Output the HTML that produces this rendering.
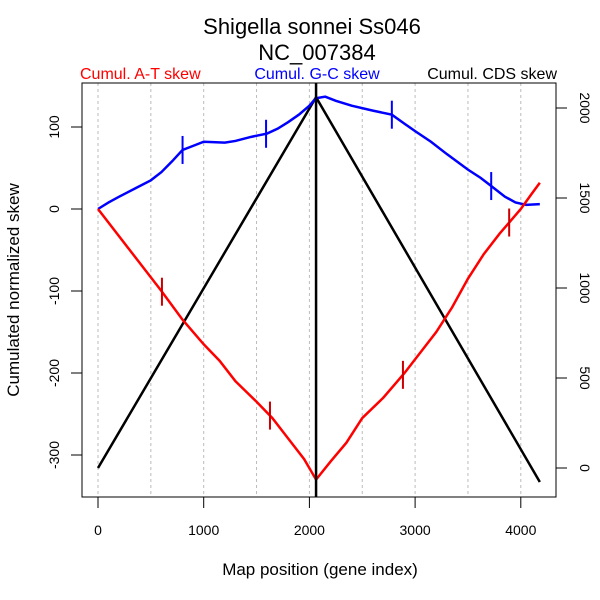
<!DOCTYPE html>
<html><head><meta charset="utf-8"><style>body{margin:0;background:#fff}svg{display:block;font-family:"Liberation Sans",sans-serif}</style></head>
<body>
<svg id="c" width="600" height="600"></svg>
<script>
const gridX=[0,500,1000,1500,2000,2500,3000,3500,4000];
const xTicks=[0,1000,2000,3000,4000];
const leftTicks=[-300,-200,-100,0,100];
const rightTicks=[0,500,1000,1500,2000];
const blueX=[0,100,200,350,500,600,700,800,900,1000,1200,1300,1450,1600,1700,1800,1900,2000,2060,2150,2250,2400,2600,2780,2900,3000,3150,3300,3500,3620,3720,3850,3950,4050,4180];
const blueY=[0,8,15,25,35,45,58,72,77,82,81,83,88,92,98,106,115,126,135,137,132,126,120,115,104,95,82,67,48,38,28,15,8,5,6];
const redX=[0,150,300,450,600,800,1000,1150,1300,1500,1650,1800,1950,2063,2200,2350,2500,2700,2900,3050,3200,3350,3500,3650,3800,3900,4000,4100,4180];
const redY=[0,-25,-50,-75,-100,-135,-165,-185,-210,-235,-255,-280,-305,-330,-308,-285,-255,-230,-200,-175,-150,-120,-85,-55,-30,-15,0,18,32];
const cdsX=[0,2063,4180];
const cdsY=[0,2060,-78];
const blueMarks=[800,1590,2780,3720];
const redMarks=[605,1627,2885,3890];
const ns="http://www.w3.org/2000/svg",svg=document.getElementById('c');
const X=v=>98+v*0.1057, YL=v=>209-v*0.82, YR=v=>468-v*0.18;
function el(t,a,txt){const e=document.createElementNS(ns,t);for(const k in a)e.setAttribute(k,a[k]);if(txt!=null)e.textContent=txt;svg.appendChild(e);return e;}
gridX.forEach(g=>{const e=el('line',{x1:X(g),x2:X(g),y1:83,y2:497,stroke:'#bbb','stroke-dasharray':'3,3'});});
function poly(xs,ys,f,c,w,name){const e=el('polyline',{points:xs.map((x,i)=>X(x)+','+f(ys[i])).join(' '),fill:'none',stroke:c,'stroke-width':w});}
poly(cdsX,cdsY,YR,'#000',2.5,'cds-skew-line');
poly(blueX,blueY,YL,'#00f',2.5,'gc-skew-line');
poly(redX,redY,YL,'#f00',2.5,'at-skew-line');
function interp(xs,ys,x){for(let i=1;i<xs.length;i++)if(x<=xs[i]){const t=(x-xs[i-1])/(xs[i]-xs[i-1]);return ys[i-1]+t*(ys[i]-ys[i-1]);}return ys[ys.length-1];}
blueMarks.forEach(m=>{const y=YL(interp(blueX,blueY,m));const e=el('line',{x1:X(m),x2:X(m),y1:y-14,y2:y+14,stroke:'#00f','stroke-width':2});});
redMarks.forEach(m=>{const y=YL(interp(redX,redY,m));const e=el('line',{x1:X(m),x2:X(m),y1:y-14,y2:y+14,stroke:'#c00','stroke-width':2});});
let v=el('line',{x1:X(2063),x2:X(2063),y1:83,y2:497,stroke:'#000','stroke-width':2.5});
let b=el('rect',{x:82,y:83,width:474,height:414,fill:'none',stroke:'#000'});
xTicks.forEach(t=>{el('line',{x1:X(t),x2:X(t),y1:497,y2:508,stroke:'#000'});const e=el('text',{x:X(t),y:535,'font-size':14,'text-anchor':'middle'},t);});
leftTicks.forEach(t=>{const y=YL(t);el('line',{x1:71,x2:82,y1:y,y2:y,stroke:'#000'});const e=el('text',{x:0,y:0,'font-size':14,'text-anchor':'middle',transform:`translate(59,${y}) rotate(-90)`},t);});
rightTicks.forEach(t=>{const y=YR(t);el('line',{x1:556,x2:567,y1:y,y2:y,stroke:'#000'});const e=el('text',{x:0,y:0,'font-size':14,'text-anchor':'middle',transform:`translate(580,${y}) rotate(90)`},t);});
</script>
<svg width="600" height="600" style="position:absolute;left:0;top:0;font-family:'Liberation Sans',sans-serif">
<text x="312" y="34" font-size="22" text-anchor="middle">Shigella sonnei Ss046</text>
<text x="317" y="60" font-size="22" text-anchor="middle">NC_007384</text>
<text x="80" y="79" font-size="16" fill="#f00">Cumul. A-T skew</text>
<text x="317" y="79" font-size="16" fill="#00f" text-anchor="middle">Cumul. G-C skew</text>
<text x="557" y="79" font-size="16" fill="#000" text-anchor="end">Cumul. CDS skew</text>
<text x="320" y="575" font-size="17" text-anchor="middle">Map position (gene index)</text>
<text x="0" y="0" font-size="17" text-anchor="middle" transform="translate(19,290) rotate(-90)">Cumulated normalized skew</text>
</svg>
</body></html>
